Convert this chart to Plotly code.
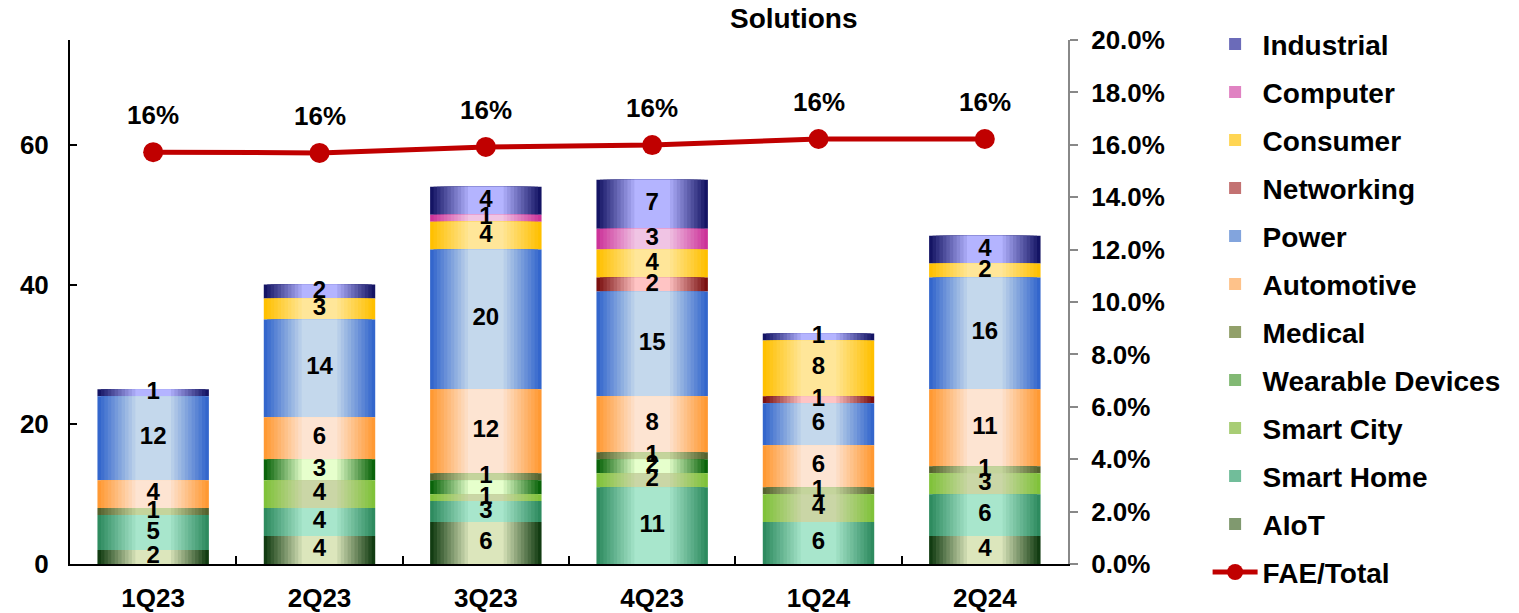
import plotly.graph_objects as go
import numpy as np

categories = ["1Q23", "2Q23", "3Q23", "4Q23", "1Q24", "2Q24"]

aiot = [2, 4, 6, 0, 0, 4]
smart_home = [5, 4, 3, 11, 6, 6]
smart_city = [0, 4, 1, 2, 4, 3]
wearable = [0, 3, 2, 2, 0, 0]
medical = [1, 0, 1, 1, 1, 1]
automotive = [4, 6, 12, 8, 6, 11]
power = [12, 14, 20, 15, 6, 16]
networking = [0, 0, 0, 2, 1, 0]
consumer = [0, 3, 4, 4, 8, 2]
computer = [0, 0, 1, 3, 0, 0]
industrial = [1, 2, 4, 7, 1, 4]

fae_total = [0.1572, 0.1569, 0.1592, 0.1599, 0.1622, 0.1622]

series_names = ["AIoT", "Smart Home", "Smart City", "Wearable Devices", "Medical",
                "Automotive", "Power", "Networking", "Consumer", "Computer", "Industrial"]
series_values = [aiot, smart_home, smart_city, wearable, medical,
                 automotive, power, networking, consumer, computer, industrial]
# (edge colour, centre colour) of the horizontal gradient
series_colors = [
    ("#123c12", "#dce6bc"),
    ("#2e8b5f", "#a8e6cc"),
    ("#80c23a", "#cad6a6"),
    ("#0a640a", "#e6ffcc"),
    ("#55622e", "#c4d49c"),
    ("#ff9933", "#fde4d2"),
    ("#3366cc", "#c4d8ec"),
    ("#7a1010", "#ffc4c4"),
    ("#ffc000", "#ffe699"),
    ("#cc3399", "#f0c4e4"),
    ("#141464", "#b4b4ff"),
]
hidden_labels = [("Wearable Devices", "3Q23")]

FONT = "Liberation Sans, Arial, sans-serif"
BAR_W = 0.67
LAYERS = 12


def hex2rgb(h):
    h = h.lstrip("#")
    return np.array([int(h[i:i + 2], 16) for i in (0, 2, 4)], dtype=float)


def lerp(c1, c2, t):
    c = hex2rgb(c1) * (1 - t) + hex2rgb(c2) * t
    return "rgb(%d,%d,%d)" % tuple(np.round(c).astype(int))


# stacking bases computed from the data (bottom series first)
bases = []
cum = np.zeros(len(categories))
for vals in series_values:
    bases.append(cum.copy())
    cum = cum + np.array(vals, dtype=float)

fig = go.Figure()

label_x, label_y, label_t = [], [], []
# add series top-to-bottom so that the legend lists Industrial first
for idx in reversed(range(len(series_names))):
    name = series_names[idx]
    vals = np.array(series_values[idx], dtype=float)
    base = bases[idx]
    edge, centre = series_colors[idx]
    for k in range(LAYERS):
        t = k / (LAYERS - 1)
        width = BAR_W * (1 - 0.68 * t)
        fig.add_trace(go.Bar(
            x=categories, y=vals, base=base, width=width,
            marker=dict(color=lerp(edge, centre, t), line=dict(width=0)),
            name=name, legendgroup=name,
            showlegend=(k == LAYERS // 2),
            hoverinfo="skip" if k else None,
        ))
    for i, c in enumerate(categories):
        if vals[i] > 0 and (name, c) not in hidden_labels:
            label_x.append(c)
            label_y.append(base[i] + vals[i] / 2)
            label_t.append(f"{vals[i]:.0f}")

fig.add_trace(go.Scatter(
    x=label_x, y=label_y, text=label_t, mode="text", showlegend=False,
    textfont=dict(family=FONT, size=24, color="black", weight="bold"),
    cliponaxis=False, hoverinfo="skip",
))

fig.add_trace(go.Scatter(
    x=categories, y=fae_total, yaxis="y2", name="FAE/Total",
    mode="lines+markers",
    line=dict(color="#c00000", width=5),
    marker=dict(color="#c00000", size=20),
    legendgroup="FAE/Total", cliponaxis=False,
))

annotations = [
    dict(x=c, y=v, xref="x", yref="y2", text=f"{v:.0%}", showarrow=False,
         yshift=37, font=dict(family=FONT, size=26, color="black", weight="bold"))
    for c, v in zip(categories, fae_total)
]
annotations.append(dict(
    x=0.7255, y=1.041, xref="paper", yref="paper", text="Solutions",
    showarrow=False, xanchor="center", yanchor="middle",
    font=dict(family=FONT, size=28, color="black", weight="bold")))

fig.update_layout(
    width=1519, height=613,
    margin=dict(l=70, r=451, t=40, b=49, autoexpand=False),
    paper_bgcolor="white", plot_bgcolor="white",
    barmode="overlay",
    font=dict(family=FONT, color="black"),
    showlegend=True,
    legend=dict(
        xref="container", yref="container",
        x=0.795, y=0.9685, xanchor="left", yanchor="top",
        traceorder="grouped", tracegroupgap=8.6,
        font=dict(family=FONT, size=28, color="black", weight="bold"),
        bgcolor="rgba(0,0,0,0)", itemwidth=45, maxheight=1.0,
    ),
    xaxis=dict(
        showline=True, linecolor="black", linewidth=2,
        ticks="inside", tickson="boundaries", ticklen=8, tickcolor="black", tickwidth=2,
        tickfont=dict(family=FONT, size=26, color="black", weight="bold"),
        ticklabelstandoff=10, showgrid=False, zeroline=False, automargin=False,
    ),
    yaxis=dict(
        range=[0, 75], tickvals=[0, 20, 40, 60],
        showline=True, linecolor="black", linewidth=2,
        ticks="inside", ticklen=7, tickcolor="black", tickwidth=2,
        tickfont=dict(family=FONT, size=26, color="black", weight="bold"),
        ticklabelstandoff=14, showgrid=False, zeroline=False, automargin=False,
    ),
    yaxis2=dict(
        overlaying="y", side="right", range=[0, 0.20], dtick=0.02, tickformat=".1%",
        showline=True, linecolor="#888888", linewidth=2,
        ticks="outside", ticklen=8, tickcolor="#888888", tickwidth=2,
        tickfont=dict(family=FONT, size=26, color="black", weight="bold"),
        ticklabelstandoff=8, showgrid=False, zeroline=False, automargin=False,
    ),
    annotations=annotations,
)

fig.write_html("out.html", config={"displayModeBar": False},
               post_script="document.body.style.margin='0px';document.body.style.overflow='hidden';")
